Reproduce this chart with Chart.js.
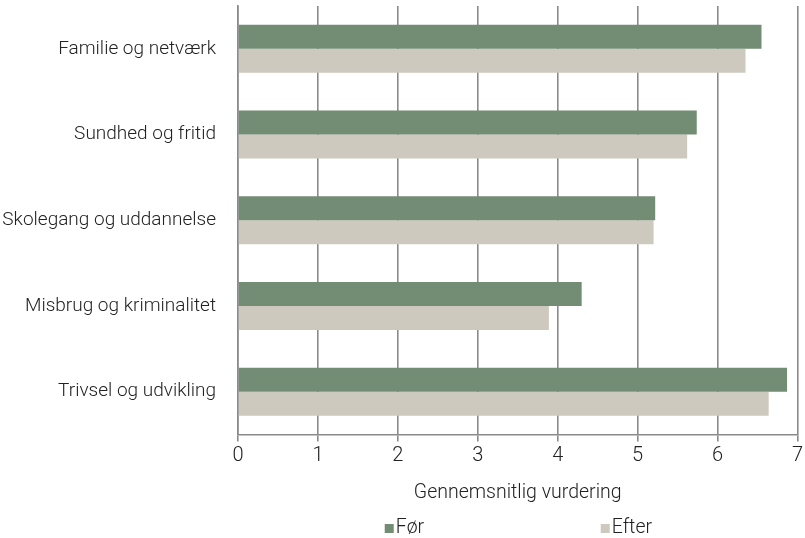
<!DOCTYPE html>
<html>
<head>
<meta charset="utf-8">
<script src="https://cdn.jsdelivr.net/npm/chart.js@4/dist/chart.umd.min.js"></script>
<style>
  html, body { margin: 0; padding: 0; background: #fff; }
  #wrap { width: 805px; height: 538px; position: relative; }
</style>
</head>
<body>
<div id="wrap"><canvas id="chart"></canvas></div>
<script>
const categories = ['Familie og netværk', 'Sundhed og fritid', 'Skolegang og uddannelse', 'Misbrug og kriminalitet', 'Trivsel og udvikling'];
const foerValues = [6.55, 5.74, 5.22, 4.30, 6.87];
const efterValues = [6.35, 5.62, 5.20, 3.89, 6.64];
const seriesNames = ['Før', 'Efter'];
const xTicks = [0, 1, 2, 3, 4, 5, 6, 7];

const textColor = '#222';
const gridColor = '#8a8a8a';
const fontFamily = 'Roboto, "DejaVu Sans", sans-serif';

// legend drawn by hand: Excel-style, two items far apart under the title
const legendPlugin = {
    id: 'bottomLegend',
    afterDraw: function (chart) {
        const ctx = chart.ctx;
        const mid = (chart.chartArea.left + chart.chartArea.right) / 2;
        const offsets = [-133, 83];
        const y = 528;
        ctx.save();
        ctx.font = '300 19.5px ' + fontFamily;
        ctx.textBaseline = 'middle';
        ctx.textAlign = 'left';
        chart.data.datasets.forEach(function (ds, i) {
            const x = mid + offsets[i];
            ctx.fillStyle = ds.backgroundColor;
            ctx.fillRect(x, y - 4, 9, 9);
            ctx.fillStyle = textColor;
            ctx.fillText(ds.label, x + 11, y);
        });
        ctx.restore();
    }
};

new Chart(document.getElementById('chart'), {
    type: 'bar',
    data: {
        labels: categories,
        datasets: [{
            label: seriesNames[0],
            data: foerValues,
            backgroundColor: '#738d74',
            categoryPercentage: 0.56,
            barPercentage: 1.0
        }, {
            label: seriesNames[1],
            data: efterValues,
            backgroundColor: '#cec9bf',
            categoryPercentage: 0.56,
            barPercentage: 1.0
        }]
    },
    options: {
        indexAxis: 'y',
        responsive: true,
        maintainAspectRatio: false,
        animation: false,
        layout: { padding: { top: 6, right: 0, left: 0, bottom: 33 } },
        plugins: {
            legend: { display: false },
            tooltip: { enabled: false }
        },
        scales: {
            x: {
                min: 0,
                max: 7,
                afterBuildTicks: function (axis) {
                    axis.ticks = xTicks.map(function (v) { return { value: v }; });
                },
                grid: { color: gridColor, lineWidth: 1.6, tickLength: 7, drawTicks: true },
                border: { color: gridColor, width: 1.6 },
                ticks: { color: textColor, padding: 2, font: { family: fontFamily, size: 20, weight: '300' } },
                title: {
                    display: true,
                    text: 'Gennemsnitlig vurdering',
                    color: textColor,
                    padding: { top: 12, bottom: 0 },
                    font: { family: fontFamily, size: 19.5, weight: '300' }
                }
            },
            y: {
                afterFit: function (axis) {
                    axis.width = 238;
                    // category labels sit inside their bands, no extra room needed above/below
                    axis.paddingTop = 0;
                    axis.paddingBottom = 0;
                },
                grid: { display: false },
                border: { color: gridColor, width: 1.6 },
                ticks: { color: textColor, padding: 14, font: { family: fontFamily, size: 19, weight: '300' } }
            }
        }
    },
    plugins: [legendPlugin]
});
</script>
</body>
</html>
